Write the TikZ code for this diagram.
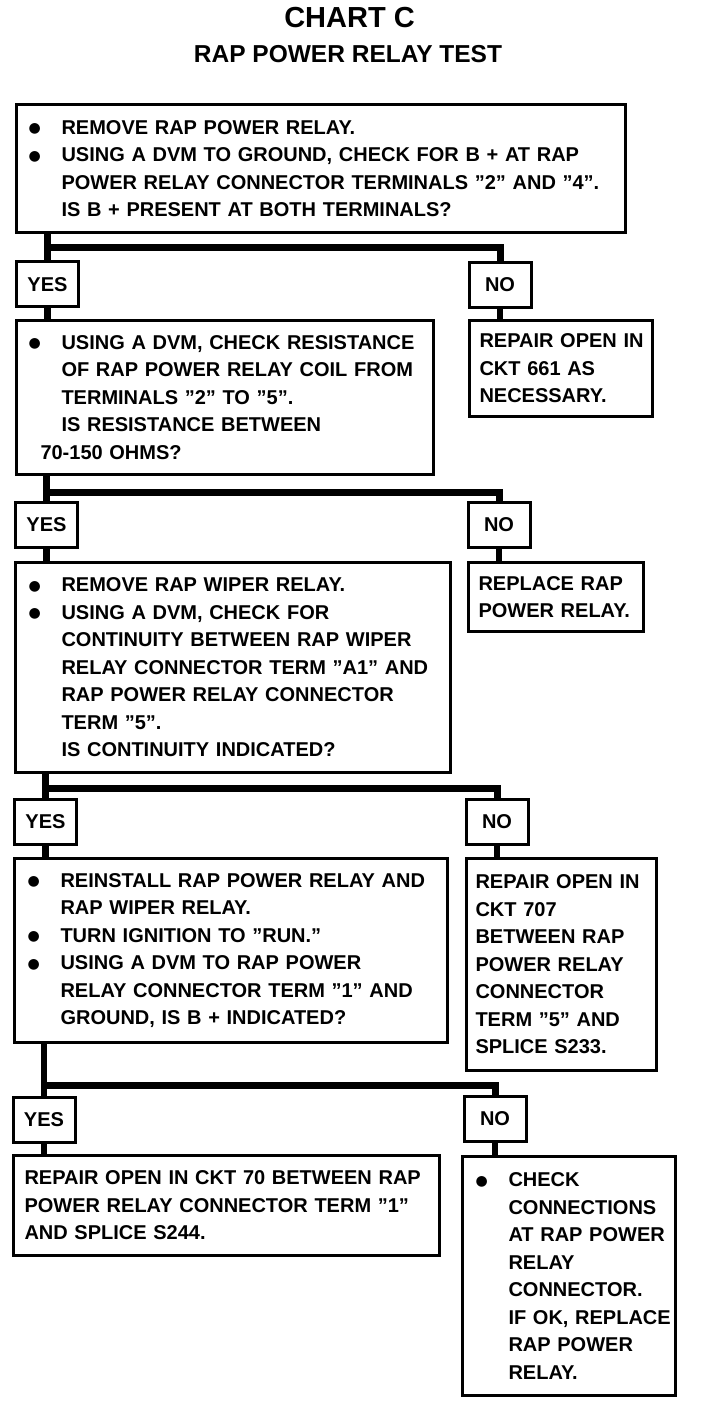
\documentclass[tikz,border=0pt]{standalone}
\usepackage{fontspec}
\setmainfont{Liberation Sans}
\newfontfamily\symfont{DejaVu Sans}
\newcommand\bodyfont{\fontsize{20}{27.5}\selectfont\bfseries}
\newcommand\dotb{\raisebox{1.5pt}{\symfont\fontsize{14}{14}\selectfont ●}}
\newcommand\bl[1]{\mbox{\makebox[33pt][l]{\dotb}#1}}
\newcommand\cl[1]{\mbox{\hspace*{33pt}#1}}
\newcommand\pl[1]{\mbox{#1}}
\begin{document}
\begin{tikzpicture}[x=1pt,y=-1pt,
  box/.style={draw, line width=3pt, inner ysep=0pt, font=\bodyfont, align=left},
  yn/.style={draw, line width=3pt, inner sep=0pt, font=\bodyfont, minimum width=62pt, minimum height=45pt},
  conn/.style={line width=6.5pt},
  bar/.style={line width=7pt},
  ttl/.style={font=\fontsize{29}{29}\selectfont\bfseries, anchor=base},
  sub/.style={font=\fontsize{24.5}{24.5}\selectfont\bfseries, anchor=base}]
\fill[white] (0,0) rectangle (704,1404);
\useasboundingbox (0,0) rectangle (704,1404);

\node[ttl] (title) at (349.5,28) {CHART C};
\node[sub] (subtitle) at (348,63) {RAP POWER RELAY TEST};

% main column
\node[box, minimum width=609pt, minimum height=128pt, inner xsep=12pt, text width=585pt] (b1) at (321,168.5) {%
\bl{REMOVE RAP POWER RELAY.}\\
\bl{USING A DVM TO GROUND, CHECK FOR B + AT RAP}\\
\cl{POWER RELAY CONNECTOR TERMINALS ”2” AND ”4”.}\\
\cl{IS B + PRESENT AT BOTH TERMINALS?}};

\node[box, minimum width=417pt, minimum height=154pt, inner xsep=12pt, text width=393pt] (b2) at (225,397.5) {%
\bl{USING A DVM, CHECK RESISTANCE}\\
\cl{OF RAP POWER RELAY COIL FROM}\\
\cl{TERMINALS ”2” TO ”5”.}\\
\cl{IS RESISTANCE BETWEEN}\\
\mbox{\hspace*{12pt}70-150 OHMS?}};

\node[box, minimum width=435pt, minimum height=210pt, inner xsep=13pt, text width=409pt] (b3) at (233,667.5) {%
\bl{REMOVE RAP WIPER RELAY.}\\
\bl{USING A DVM, CHECK FOR}\\
\cl{CONTINUITY BETWEEN RAP WIPER}\\
\cl{RELAY CONNECTOR TERM ”A1” AND}\\
\cl{RAP POWER RELAY CONNECTOR}\\
\cl{TERM ”5”.}\\
\cl{IS CONTINUITY INDICATED?}};

\node[box, minimum width=433pt, minimum height=184pt, inner xsep=13pt, text width=407pt] (b4) at (231,950.5) {%
\bl{REINSTALL RAP POWER RELAY AND}\\
\cl{RAP WIPER RELAY.}\\
\bl{TURN IGNITION TO ”RUN.”}\\
\bl{USING A DVM TO RAP POWER}\\
\cl{RELAY CONNECTOR TERM ”1” AND}\\
\cl{GROUND, IS B + INDICATED?}};

\node[box, minimum width=426pt, minimum height=100pt, inner xsep=11pt, text width=404pt] (b5) at (226.5,1205.5) {%
\pl{REPAIR OPEN IN CKT 70 BETWEEN RAP}\\
\pl{POWER RELAY CONNECTOR TERM ”1”}\\
\pl{AND SPLICE S244.}};

% right column
\node[box, minimum width=183pt, minimum height=96pt, inner xsep=10pt, text width=163pt] (r1) at (561,368.5) {%
\pl{REPAIR OPEN IN}\\
\pl{CKT 661 AS}\\
\pl{NECESSARY.}};

\node[box, minimum width=175pt, minimum height=69pt, inner xsep=10pt, text width=155pt] (r2) at (556,597) {%
\pl{REPLACE RAP}\\
\pl{POWER RELAY.}};

\node[box, minimum width=190pt, minimum height=212pt, inner xsep=9pt, text width=172pt] (r3) at (561.5,964.5) {%
\pl{REPAIR OPEN IN}\\
\pl{CKT 707}\\
\pl{BETWEEN RAP}\\
\pl{POWER RELAY}\\
\pl{CONNECTOR}\\
\pl{TERM ”5” AND}\\
\pl{SPLICE S233.}};

\node[box, minimum width=213pt, minimum height=239pt, inner xsep=13pt, text width=187pt] (r4) at (569,1276) {%
\bl{CHECK}\\
\cl{CONNECTIONS}\\
\cl{AT RAP POWER}\\
\cl{RELAY}\\
\cl{CONNECTOR.}\\
\cl{IF OK, REPLACE}\\
\cl{RAP POWER}\\
\cl{RELAY.}};

% YES / NO boxes
\node[yn] (yes1) at (47.5,284.5) {YES};
\node[yn] (no1) at (500,285) {NO};
\node[yn] (yes2) at (46.5,525) {YES};
\node[yn] (no2) at (499,525) {NO};
\node[yn] (yes3) at (45.5,821.5) {YES};
\node[yn] (no3) at (497,822) {NO};
\node[yn] (yes4) at (44,1119.5) {YES};
\node[yn] (no4) at (495,1119) {NO};

% junctions
\coordinate (j1) at (47.5,248);
\coordinate (j2) at (46.5,492);
\coordinate (j3) at (45.5,788);
\coordinate (j4) at (44,1085);

% connectors
\draw[conn] (b1.south -| yes1.north) -- (yes1.north);
\draw[bar] (j1) -| (no1.north);
\draw[conn] (yes1.south) -- (b2.north -| yes1.south);
\draw[conn] (no1.south) -- (r1.north -| no1.south);

\draw[conn] (b2.south -| yes2.north) -- (yes2.north);
\draw[bar] (j2) -| (no2.north);
\draw[conn] (yes2.south) -- (b3.north -| yes2.south);
\draw[conn] (no2.south) -- (r2.north -| no2.south);

\draw[conn] (b3.south -| yes3.north) -- (yes3.north);
\draw[bar] (j3) -| (no3.north);
\draw[conn] (yes3.south) -- (b4.north -| yes3.south);
\draw[conn] (no3.south) -- (r3.north -| no3.south);

\draw[conn] (b4.south -| yes4.north) -- (yes4.north);
\draw[bar] (j4) -| (no4.north);
\draw[conn] (yes4.south) -- (b5.north -| yes4.south);
\draw[conn] (no4.south) -- (r4.north -| no4.south);
\end{tikzpicture}
\end{document}
